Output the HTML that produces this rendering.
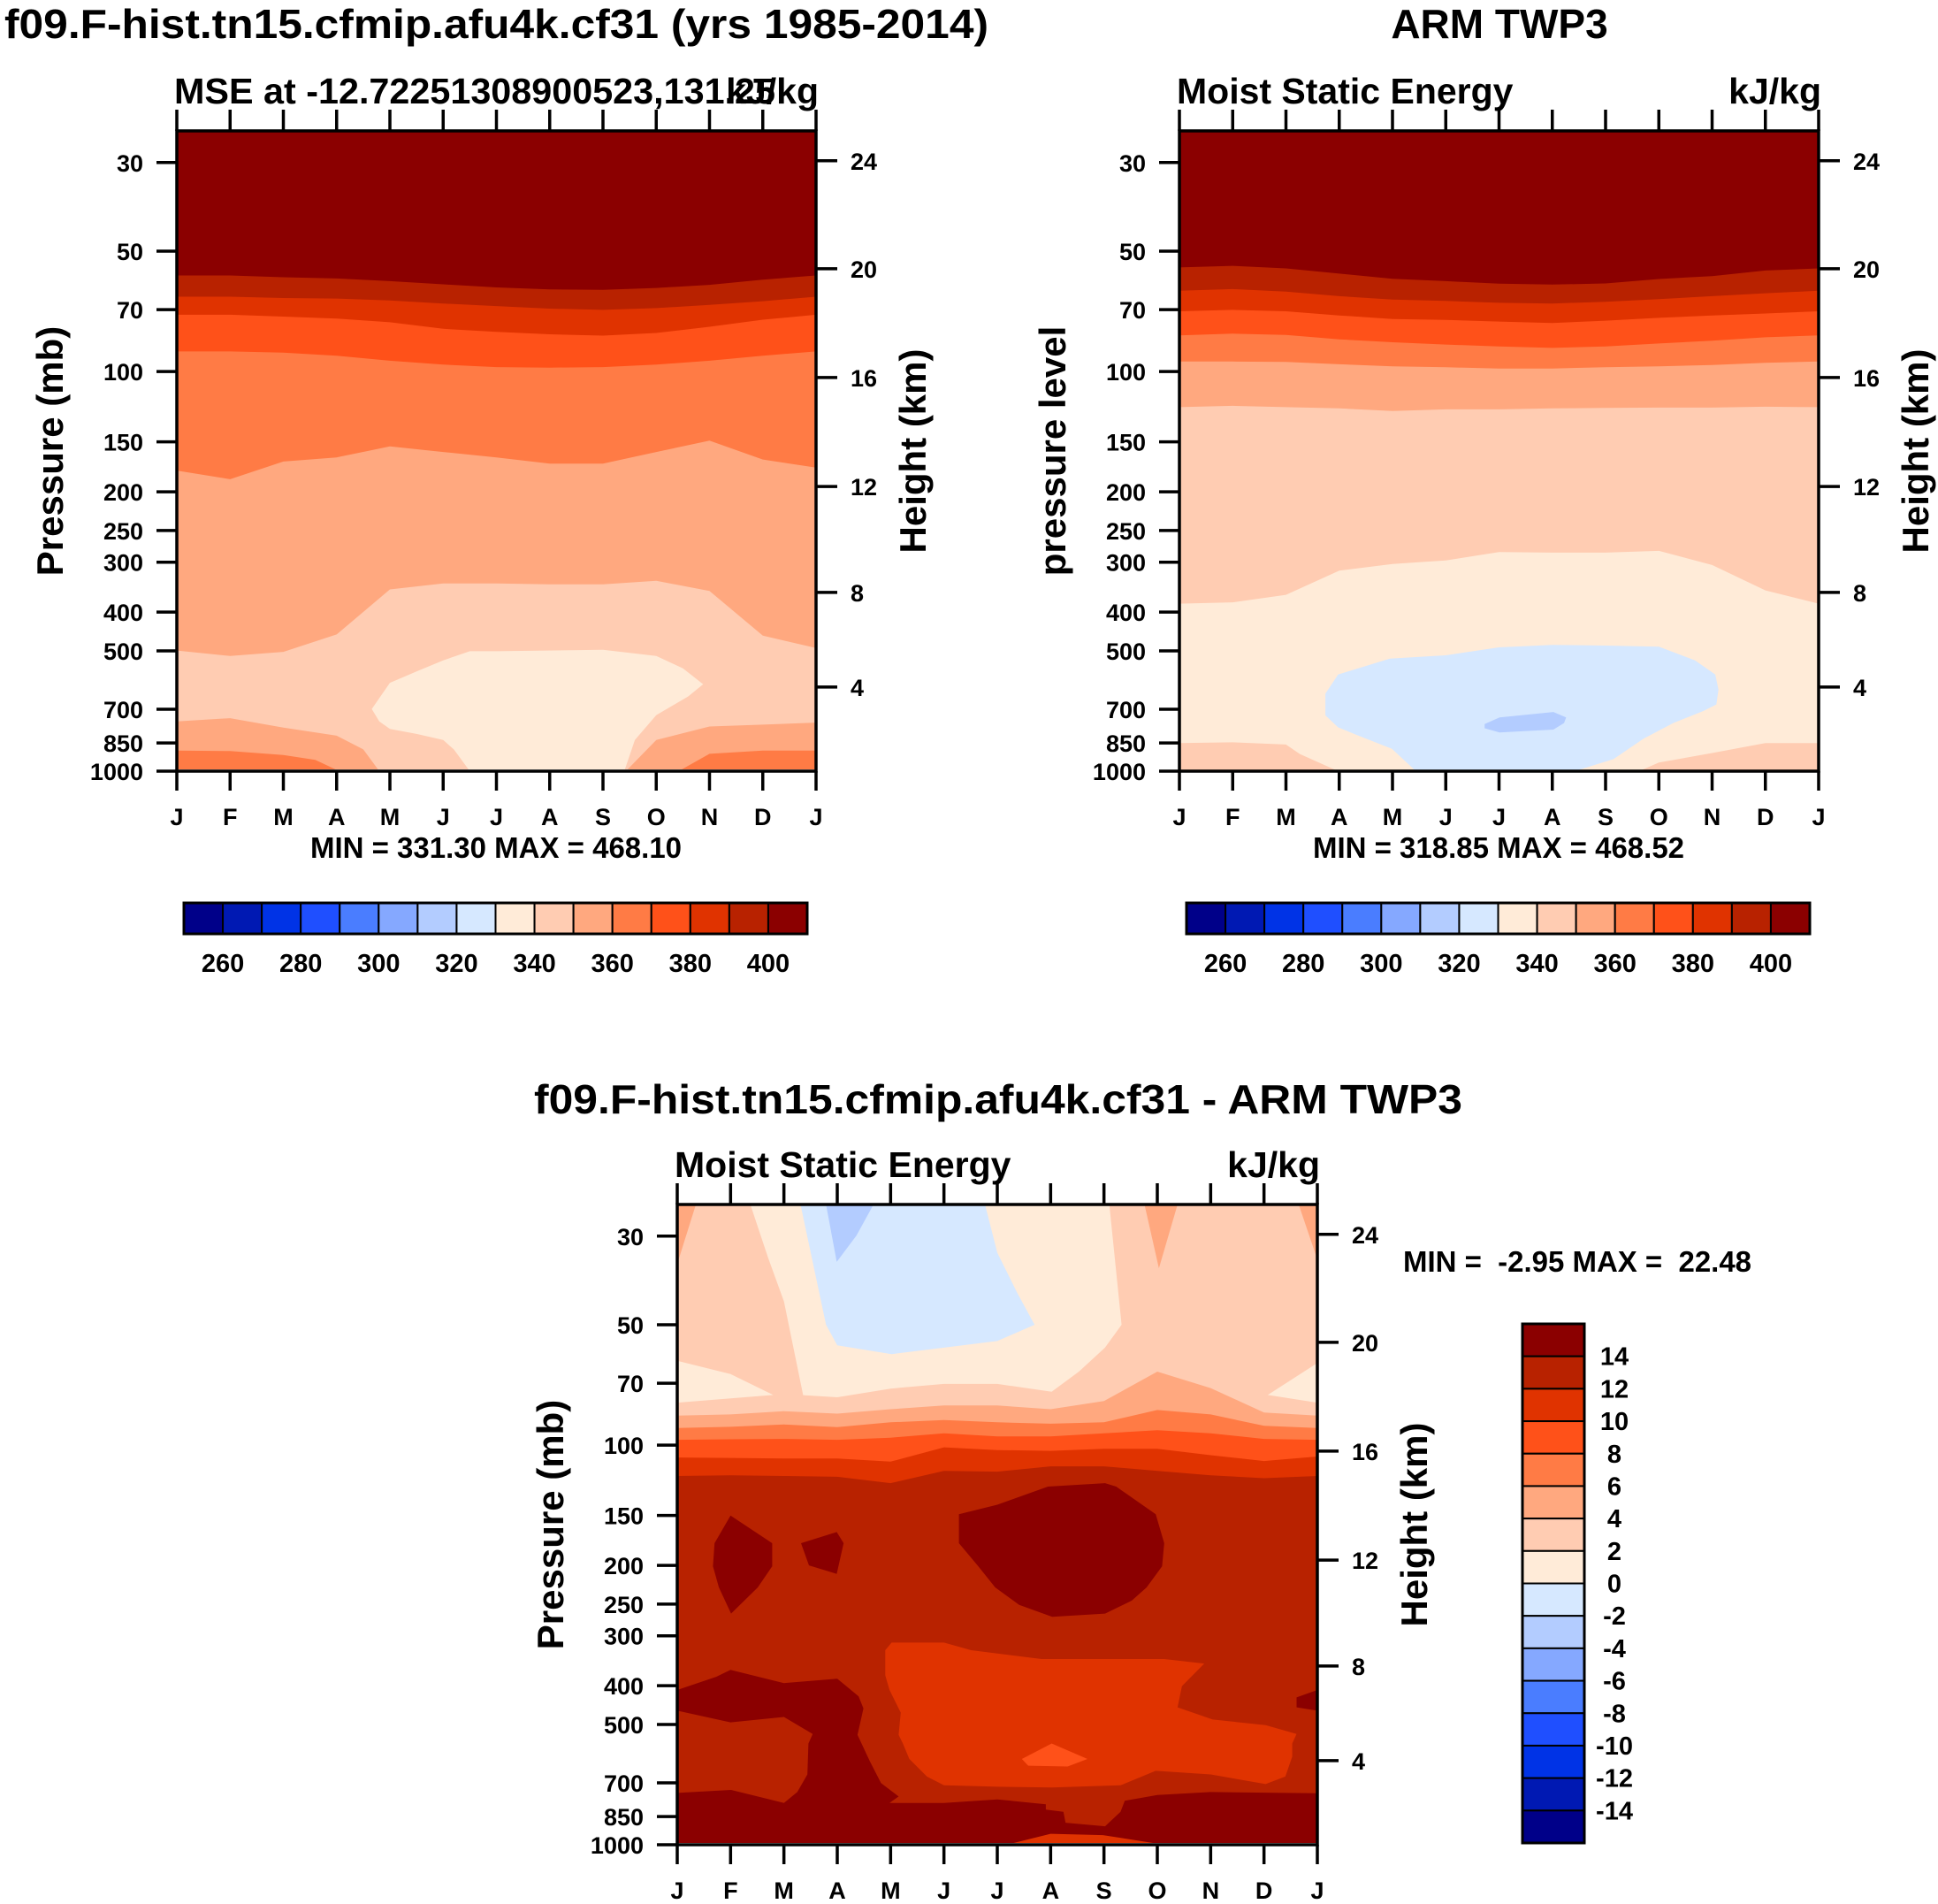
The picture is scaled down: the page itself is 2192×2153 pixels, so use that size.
<!DOCTYPE html>
<html><head><meta charset="utf-8"><style>
html,body{margin:0;padding:0;background:#fff;}
svg{display:block;font-family:"Liberation Sans",Arial,sans-serif;font-weight:bold;}
.pre{white-space:pre;}
</style></head><body>
<svg id="fig" xmlns="http://www.w3.org/2000/svg" width="2192" height="2153" viewBox="0 0 2192 2153"></svg>
<script>
// ---------- data ----------
const months = ['J','F','M','A','M','J','J','A','S','O','N','D','J'];
const pressureTicks = [30,50,70,100,150,200,250,300,400,500,700,850,1000];
const heightTickLabels = [24,20,16,12,8,4];
const heightTickPressures = [29.7,55.3,103.5,194,357,616];
const mseLevels = [260,280,300,320,340,360,380,400];
const diffLevels = [14,12,10,8,6,4,2,0,-2,-4,-6,-8,-10,-12,-14];
const palette = ['#000089','#0019b3','#0033e6','#1f4fff','#4a7dff','#85a8ff','#b3ccff','#d6e8ff','#ffebd8','#ffccb2','#ffa87f','#ff7b45','#ff5119','#e03300','#b82200','#8b0000'];

// Panel 1 (model MSE) contour pressures per month (mb)
const m_c400 = [57.5,57.5,58.1,58.5,59.4,60.5,61.6,62.3,62.5,61.8,60.7,58.9,57.5];
const m_c390 = [65.0,65.0,65.5,65.7,66.4,67.6,68.6,69.6,70.1,69.4,68.1,66.7,65.0];
const m_c380 = [72.1,72.1,72.9,73.7,75.3,78.2,79.6,80.7,81.3,80.1,77.3,74.2,72.1];
const m_c370 = [89.1,89.1,89.7,91.3,94.0,96.1,97.5,97.8,97.5,96.1,94.0,91.3,89.1];
const m_c360 = [177,186,168,164,154,159,164,170,170,159,149,166,174];
const m_c350 = [499,515,503,455,351,339,339,341,341,334,354,458,492];
const m_low350L = [[0,751],[1,737],[2,778],[3,815],[3.5,882],[3.8,1000],[0,1000]];
const m_low350R = [[8.43,1000],[9,836],[10,773],[11,765],[12,756],[12,1000]];
const m_low360L = [[0,888],[1,891],[2,911],[2.6,937],[3,993],[3.05,1000],[0,1000]];
const m_low360R = [[9.42,1000],[10,905],[11,888],[12,888],[12,1000]];
const m_bub340 = [[3.66,699],[4,601],[4.5,563],[5,528],[5.5,501],[6,501],[8,497],[9,515],[9.5,553],[9.88,606],[9.6,650],[9,724],[8.6,836],[8.4,1000],[5.5,1000],[5.2,882],[5,836],[4.5,807],[4,784],[3.8,751]];

// Panel 2 (ARM MSE)
const o_c400 = [54.9,54.4,55.2,56.9,58.6,59.4,60.3,60.6,60.2,58.7,57.7,55.9,55.2];
const o_c390 = [62.8,62.2,63.1,64.8,66.1,66.6,67.3,67.6,66.9,65.9,64.8,63.7,62.8];
const o_c380 = [70.7,70.1,70.7,72.4,73.9,74.3,75.0,75.6,74.6,73.4,72.4,71.6,70.7];
const o_c370 = [81.2,80.4,81.0,83.1,84.5,85.6,86.6,87.3,86.6,85.1,83.7,82.1,81.2];
const o_c360 = [94.4,94.4,94.6,95.9,97.1,97.6,98.3,98.3,97.6,97.1,96.3,95.1,94.4];
const o_c350 = [122.8,121.9,122.8,123.7,125.6,124.4,124.4,123.7,123.4,123.1,123.1,122.5,122.8];
const o_c340 = [381,378,362,315,303,297,283,284,284,281,305,353,381];
const o_low340L = [[0,851],[1,847],[2,858],[2.26,906],[2.98,1000],[0,1000]];
const o_low340R = [[8.63,1000],[9,952],[10,901],[11,851],[12,851],[12,1000]];
const o_bub330 = [[2.74,640],[2.98,573],[3.95,523],[5,513],[6,490],[7,483],[8,485],[9,488],[9.68,528],[10.06,573],[10.12,625],[10.08,681],[9.84,707],[9.27,758],[8.71,830],[8.15,933],[7.42,1000],[4.44,1000],[3.99,879],[3.31,810],[2.98,777],[2.74,725]];
const o_bub320 = [[5.73,762],[6.01,734],[7.02,711],[7.26,734],[7.22,758],[7.02,787],[6.01,800],[5.73,781]];

// Panel 3 (difference)
const d_c0L = [[0,61.5],[1,66.4],[1.80,74.9],[0,78.3]];
const d_c0R = [[12,62.3],[11.07,74.9],[12,78.3]];
const d_c0M = [[1.37,25],[1.70,33.9],[2.0,43.7],[2.36,75.0],[3,75.9],[4,72.2],[5,70.3],[6,70.3],[7.02,73.5],[7.53,65.5],[8.02,57.0],[8.33,50.0],[8.10,25]];
const d_cm2 = [[2.31,25],[2.79,50.0],[3.0,56.3],[4.02,59.2],[6.0,54.9],[6.70,50.0],[6.37,41.5],[6.0,33.0],[5.77,25]];
const d_cm4 = [[2.79,25],[2.99,34.8],[3.36,29.9],[3.68,25]];
const d_c4a = [[0,25],[0.35,25],[0,35.2]];
const d_c4b = [[12,25],[11.65,25],[12,34.3]];
const d_c4c = [[8.76,25],[9.38,25],[9.03,36.1]];
const d_c4 = [84.4,83.8,82.3,83.4,81.3,79.6,79.6,81.3,77.6,65.5,72.0,82.9,84.4];
const d_c6 = [90.6,90.0,88.8,90.2,87.7,86.6,87.7,88.4,87.7,81.7,83.8,89.5,90.6];
const d_c8 = [97.0,96.7,96.5,97.0,95.8,93.4,95.1,95.1,93.4,91.8,93.4,96.5,97.0];
const d_c10 = [107.4,107.7,108,108,110,101.3,102.9,103.4,102.1,102.1,106,109.6,106.8];
const d_c12 = [119.5,119,119.5,120,124.5,116,116.5,113,113,116,119,121,119.5];
const d_hiA = [[1.0,150],[1.78,176],[1.78,201],[1.51,227],[1.01,264],[0.78,227],[0.67,201],[0.70,176]];
const d_hiB = [[2.32,176],[2.99,165],[3.12,176],[2.99,210],[2.47,200]];
const d_hiC = [[5.28,149],[6.0,141],[6.95,127],[8.02,124.5],[8.23,127],[8.97,149],[9.13,176],[9.09,201],[8.80,227],[8.52,245],[8.02,264],[7.03,269],[6.41,251],[5.96,227],[5.63,200],[5.28,176]];
const d_mid10 = [[3.90,326],[4.02,312],[5.0,312],[5.51,326],[6.83,343],[9.13,343],[9.88,352],[9.46,401],[9.38,453],[10.04,486],[11.03,502],[11.61,528],[11.53,558],[11.53,602],[11.40,675],[11.03,705],[10.0,667],[8.97,653],[8.31,710],[7.03,719],[6.0,716],[5.0,710],[4.68,675],[4.35,610],[4.23,558],[4.15,531],[4.19,467],[3.98,410],[3.90,377]];
const d_mid8 = [[6.46,610],[7.02,558],[7.69,610],[7.32,637],[6.58,634]];
const d_low14 = [[0,410],[0.73,380],[1.0,365],[2.0,394],[3.0,384],[3.40,425],[3.49,456],[3.38,531],[3.61,618],[3.82,701],[4.15,757],[3.98,786],[5.0,786],[6.0,770],[6.91,792],[6.91,817],[7.24,827],[7.28,881],[8.02,899],[8.31,827],[8.39,776],[9.0,751],[10.0,738],[12,743],[12,1000],[0,1000]];
const d_in12 = [[0,462],[1.0,494],[2.0,479],[2.54,528],[2.46,558],[2.44,667],[2.25,738],[2.0,786],[1.01,729],[0,742]];
const d_r14 = [[11.61,428],[12,410],[12,462],[11.61,453]];
const d_bot10 = [[6.17,1000],[7.0,939],[7.98,946],[9.13,1000]];

// ---------- helpers ----------
const NS='http://www.w3.org/2000/svg';
const svg=document.getElementById('fig');
function el(tag,attrs,parent){const e=document.createElementNS(NS,tag);for(const k in attrs)e.setAttribute(k,attrs[k]);(parent||svg).appendChild(e);return e;}
function txt(s,attrs,parent){const e=el('text',attrs,parent);e.textContent=s;return e;}
const PTOP=25,PBOT=1000;
function axes(x0,y0,w,h){return{x:m=>x0+m*w/12,y:p=>y0+h*Math.log(p/PTOP)/Math.log(PBOT/PTOP)};}
function lineBelow(arr){const pts=arr.map((p,i)=>[i,p]);pts.push([12,PBOT],[0,PBOT]);return pts;}

function drawPanel(id,x0,y0,w,h,layers,opts){
  const ax=axes(x0,y0,w,h);
  const g=el('g',{});
  
  
  const cp=el('clipPath',{id:id+'-clip'},g);
  el('rect',{x:x0,y:y0,width:w,height:h},cp);
  const fills=el('g',{'clip-path':'url(#'+id+'-clip)'},g);
  
  
  el('rect',{x:x0,y:y0,width:w,height:h,fill:palette[opts.base]},fills);
  layers.forEach(L=>{
    const pts=L[0].map(q=>ax.x(q[0]).toFixed(1)+','+ax.y(q[1]).toFixed(1)).join(' ');
    const poly=el('polygon',{points:pts,fill:L[1]},fills);
    
    
  });
  el('rect',{x:x0,y:ax.y(opts.stripP),width:w,height:y0+h-ax.y(opts.stripP),fill:opts.stripColor},fills);
  const fr=el('rect',{x:x0,y:y0,width:w,height:h,fill:'none',stroke:'#000','stroke-width':3.5},g);
  
  
  months.forEach((mname,i)=>{
    const x=ax.x(i);
    el('line',{x1:x,y1:y0,x2:x,y2:y0-24,stroke:'#000','stroke-width':3.5},g);
    el('line',{x1:x,y1:y0+h,x2:x,y2:y0+h+22,stroke:'#000','stroke-width':3.5},g);
    const t=txt(mname,{x:x,y:y0+h+61,'font-size':27,'text-anchor':'middle'},g);
    
    
  });
  pressureTicks.forEach(p=>{
    const y=ax.y(p);
    el('line',{x1:x0,y1:y,x2:x0-23,y2:y,stroke:'#000','stroke-width':3.5},g);
    const t=txt(String(p),{x:x0-38,y:y+10,'font-size':27,'text-anchor':'end'},g);
    
    
  });
  heightTickPressures.forEach((p,i)=>{
    const y=ax.y(p);
    el('line',{x1:x0+w,y1:y,x2:x0+w+24,y2:y,stroke:'#000','stroke-width':3.5},g);
    const t=txt(String(heightTickLabels[i]),{x:x0+w+39,y:y+10,'font-size':27},g);
    
    
  });
  const yl=txt(opts.ytitle,{x:0,y:0,'font-size':42,'text-anchor':'middle',transform:'translate('+(x0-129)+','+(y0+h/2)+') rotate(-90)'},g);
  
  
  const yr=txt('Height (km)',{x:0,y:0,'font-size':42,'text-anchor':'middle',transform:'translate('+(x0+w+124)+','+(y0+h/2)+') rotate(-90)'},g);
  
  
  const st=txt(opts.sub,{x:x0-3,y:y0-31,'font-size':41},g);
  
  
  if(opts.subLen){st.setAttribute('textLength',opts.subLen);st.setAttribute('lengthAdjust','spacingAndGlyphs');}
  const un=txt('kJ/kg',{x:x0+w+3,y:y0-31,'font-size':41,'text-anchor':'end'},g);
  
  
}

let t1=txt('f09.F-hist.tn15.cfmip.afu4k.cf31 (yrs 1985-2014)',{x:5,y:43,'font-size':46,textLength:1113,lengthAdjust:'spacingAndGlyphs'});


let t2=txt('ARM TWP3',{x:1696,y:43,'font-size':46,'text-anchor':'middle'});


let t3=txt('f09.F-hist.tn15.cfmip.afu4k.cf31 - ARM TWP3',{x:604,y:1259,'font-size':46,textLength:1050,lengthAdjust:'spacingAndGlyphs'});



const P=palette;
drawPanel('model',200,148,723,724,[
 [lineBelow(m_c400),P[14]],[lineBelow(m_c390),P[13]],[lineBelow(m_c380),P[12]],[lineBelow(m_c370),P[11]],
 [lineBelow(m_c360),P[10]],[lineBelow(m_c350),P[9]],
 [m_low350L,P[10]],[m_low350R,P[10]],[m_low360L,P[11]],[m_low360R,P[11]],[m_bub340,P[8]]
],{base:15,stripP:990,stripColor:'#ffffff',ytitle:'Pressure (mb)',sub:'MSE at -12.72251308900523,131.25',subLen:680});

drawPanel('obs',1334,148,723,724,[
 [lineBelow(o_c400),P[14]],[lineBelow(o_c390),P[13]],[lineBelow(o_c380),P[12]],[lineBelow(o_c370),P[11]],
 [lineBelow(o_c360),P[10]],[lineBelow(o_c350),P[9]],[lineBelow(o_c340),P[8]],
 [o_low340L,P[9]],[o_low340R,P[9]],[o_bub330,P[7]],[o_bub320,P[6]]
],{base:15,stripP:994,stripColor:P[10],ytitle:'pressure level',sub:'Moist Static Energy'});

drawPanel('diff',766,1362,724,724,[
 [d_c0M,P[8]],[d_c0L,P[8]],[d_c0R,P[8]],[d_cm2,P[7]],[d_cm4,P[6]],
 [d_c4a,P[10]],[d_c4b,P[10]],[d_c4c,P[10]],
 [lineBelow(d_c4),P[10]],[lineBelow(d_c6),P[11]],[lineBelow(d_c8),P[12]],[lineBelow(d_c10),P[13]],[lineBelow(d_c12),P[14]],
 [d_hiA,P[15]],[d_hiB,P[15]],[d_hiC,P[15]],[d_mid10,P[13]],[d_mid8,P[12]],
 [d_low14,P[15]],[d_in12,P[14]],[d_r14,P[15]],[d_bot10,P[13]]
],{base:9,stripP:990,stripColor:'#ffffff',ytitle:'Pressure (mb)',sub:'Moist Static Energy'});

let mm1=txt('MIN = 331.30 MAX = 468.10',{x:561,y:970,'font-size':33,'text-anchor':'middle'});


let mm2=txt('MIN = 318.85 MAX = 468.52',{x:1695,y:970,'font-size':33,'text-anchor':'middle'});


let mm3=txt('MIN =  -2.95 MAX =  22.48',{x:1587,y:1438,'font-size':33,textLength:394,lengthAdjust:'spacingAndGlyphs','class':'pre'});



function hbar(x0,name){
  const g=el('g',{});
  
  
  const bw=(913-208)/16, y0=1021, bh=35;
  palette.forEach((c,i)=>{el('rect',{x:x0+i*bw,y:y0,width:bw,height:bh,fill:c,stroke:'#000','stroke-width':2},g);});
  el('rect',{x:x0,y:y0,width:bw*16,height:bh,fill:'none',stroke:'#000','stroke-width':3},g);
  mseLevels.forEach(v=>{
    const idx=(v-260)/10+1;
    const t=txt(String(v),{x:x0+idx*bw,y:1099,'font-size':29,'text-anchor':'middle'},g);
    
    
  });
}
hbar(208,'model-colorbar');
hbar(1342,'obs-colorbar');

(function(){
  const g=el('g',{});
  
  
  const x0=1722,w=70,y0=1497,bh=(2084-1497)/16;
  palette.slice().reverse().forEach((c,i)=>{el('rect',{x:x0,y:y0+i*bh,width:w,height:bh,fill:c,stroke:'#000','stroke-width':2},g);});
  el('rect',{x:x0,y:y0,width:w,height:bh*16,fill:'none',stroke:'#000','stroke-width':3},g);
  diffLevels.forEach((v,i)=>{
    const t=txt(String(v),{x:1826,y:y0+(i+1)*bh+10,'font-size':29,'text-anchor':'middle'},g);
    
    
  });
})();
</script>
</body></html>
